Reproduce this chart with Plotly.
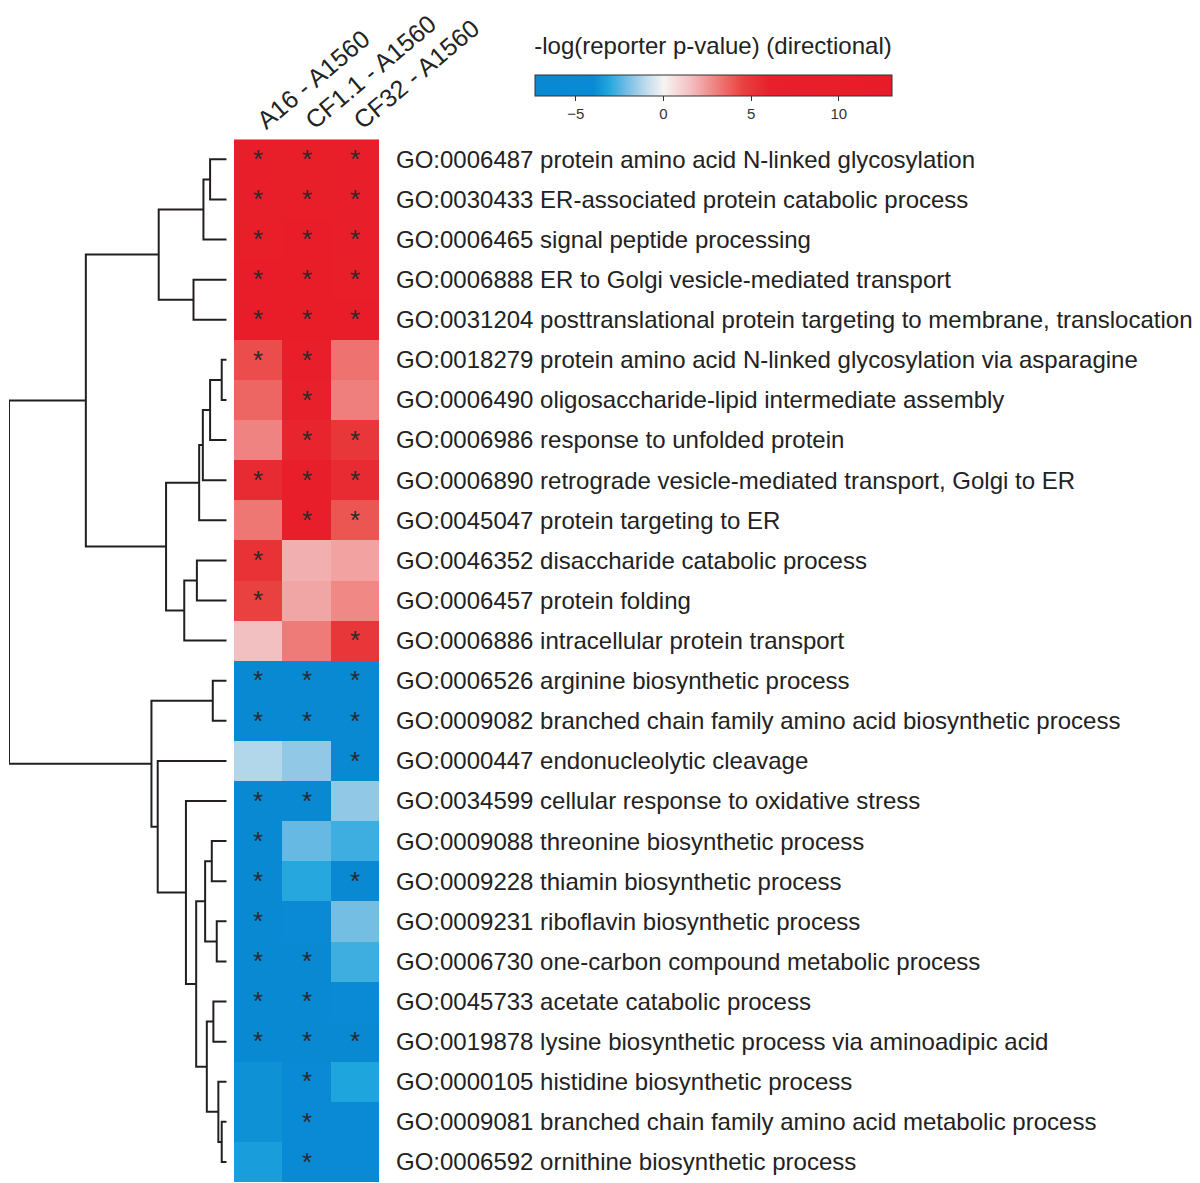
import plotly.graph_objects as go

# ---------------- data ----------------
columns = ["A16 - A1560", "CF1.1 - A1560", "CF32 - A1560"]

terms = [
    "GO:0006487 protein amino acid N-linked glycosylation",
    "GO:0030433 ER-associated protein catabolic process",
    "GO:0006465 signal peptide processing",
    "GO:0006888 ER to Golgi vesicle-mediated transport",
    "GO:0031204 posttranslational protein targeting to membrane, translocation",
    "GO:0018279 protein amino acid N-linked glycosylation via asparagine",
    "GO:0006490 oligosaccharide-lipid intermediate assembly",
    "GO:0006986 response to unfolded protein",
    "GO:0006890 retrograde vesicle-mediated transport, Golgi to ER",
    "GO:0045047 protein targeting to ER",
    "GO:0046352 disaccharide catabolic process",
    "GO:0006457 protein folding",
    "GO:0006886 intracellular protein transport",
    "GO:0006526 arginine biosynthetic process",
    "GO:0009082 branched chain family amino acid biosynthetic process",
    "GO:0000447 endonucleolytic cleavage",
    "GO:0034599 cellular response to oxidative stress",
    "GO:0009088 threonine biosynthetic process",
    "GO:0009228 thiamin biosynthetic process",
    "GO:0009231 riboflavin biosynthetic process",
    "GO:0006730 one-carbon compound metabolic process",
    "GO:0045733 acetate catabolic process",
    "GO:0019878 lysine biosynthetic process via aminoadipic acid",
    "GO:0000105 histidine biosynthetic process",
    "GO:0009081 branched chain family amino acid metabolic process",
    "GO:0006592 ornithine biosynthetic process",
]

# directional -log(reporter p-value), per term, columns A16 / CF1.1 / CF32
values = [
    [9.0, 10.0, 8.5],
    [8.5, 10.0, 9.0],
    [10.0, 10.5, 8.5],
    [11.0, 12.0, 10.0],
    [11.0, 12.0, 11.0],
    [4.2, 7.0, 3.3],
    [3.6, 6.5, 3.0],
    [2.9, 5.8, 5.0],
    [5.5, 7.5, 5.5],
    [3.2, 8.5, 4.0],
    [5.2, 1.9, 2.2],
    [4.5, 2.1, 2.8],
    [1.5, 3.1, 5.0],
    [-7.0, -7.0, -7.0],
    [-7.0, -7.0, -7.0],
    [-1.2, -1.7, -6.5],
    [-7.0, -6.5, -1.7],
    [-7.0, -2.3, -2.8],
    [-7.0, -3.1, -6.5],
    [-7.0, -4.8, -2.1],
    [-7.0, -6.5, -2.8],
    [-6.5, -6.5, -4.8],
    [-6.5, -6.5, -6.0],
    [-3.8, -5.5, -3.2],
    [-3.8, -5.5, -4.2],
    [-3.4, -5.5, -4.2],
]

significant = [
    [1, 1, 1], [1, 1, 1], [1, 1, 1], [1, 1, 1], [1, 1, 1],
    [1, 1, 0], [0, 1, 0], [0, 1, 1], [1, 1, 1], [0, 1, 1],
    [1, 0, 0], [1, 0, 0], [0, 0, 1],
    [1, 1, 1], [1, 1, 1], [0, 0, 1], [1, 1, 0], [1, 0, 0],
    [1, 0, 1], [1, 0, 0], [1, 1, 0], [1, 1, 0], [1, 1, 1],
    [0, 1, 0], [0, 1, 0], [0, 1, 0],
]

# row-clustering merges (scipy-like: index < 26 leaf, >= 26 earlier merge), with merge height
merges = [
    (0, 1, 16.7), (26, 2, 23.4), (3, 4, 33.4), (27, 28, 68.4),
    (5, 6, 5.0), (30, 7, 16.7), (31, 8, 24.0), (32, 9, 27.7),
    (10, 11, 30.0), (34, 12, 42.7), (33, 35, 61.0), (29, 36, 141.7),
    (13, 14, 14.0), (17, 18, 15.0), (19, 20, 10.0), (39, 40, 21.7),
    (21, 22, 13.4), (24, 25, 5.0), (23, 43, 8.4), (42, 44, 20.0),
    (41, 45, 30.7), (16, 46, 41.0), (15, 47, 69.4), (38, 48, 75.7),
    (37, 49, 219.0),
]

cb_ticks = [-5, 0, 5, 10]
zmin, zmax = -7.35, 13.0

# ---------------- figure ----------------
OFF = 8  # page body margin
W, H = 1200 - OFF, 1183 - OFF
n_rows = len(terms)

def fx(px):
    return max(0.0, (px - OFF) / W)

def fy(py):
    return (H - (py - OFF)) / H

stops = [
    (-7.35, "#0a89d3"), (-4.0, "#0a8ad4"), (-3.2, "#1ea5dd"), (-2.0, "#7cc0e4"),
    (-1.0, "#c0dcec"), (0.0, "#f7f4f4"), (1.5, "#f3c0c2"), (3.0, "#ef7f7c"),
    (4.5, "#e9413f"), (6.0, "#e8202b"), (13.0, "#e81c28"),
]
colorscale = [[(v - zmin) / (zmax - zmin), c] for v, c in stops]

star_text = [["*" if s else "" for s in row] for row in significant]

FONT = "Liberation Sans, Arial, sans-serif"

fig = go.Figure()

fig.add_trace(go.Heatmap(
    z=values,
    x=list(range(len(columns))),
    y=list(range(n_rows)),
    text=star_text,
    texttemplate="%{text}",
    textfont=dict(size=26, color="#2a2a2a", family=FONT),
    colorscale=colorscale,
    zmin=zmin, zmax=zmax,
    xaxis="x", yaxis="y",
    hoverinfo="skip",
    colorbar=dict(
        orientation="h",
        lenmode="pixels", len=357,
        thickness=21,
        x=fx(713), xanchor="center",
        y=fy(48), yanchor="top",
        xpad=0, ypad=0,
        outlinecolor="#333333", outlinewidth=1,
        tickvals=cb_ticks,
        ticks="outside", ticklen=5, tickwidth=1, tickcolor="#333333",
        tickfont=dict(size=15, color="#333333", family=FONT),
        title=dict(text="-log(reporter p-value) (directional)", side="top",
                   font=dict(size=24, color="#222222", family=FONT)),
    ),
))

# dendrogram computed from merges
node_y = {i: float(i) for i in range(n_rows)}
node_h = {i: 0.0 for i in range(n_rows)}
dx, dy = [], []
for k, (a, b, h) in enumerate(merges):
    nid = n_rows + k
    ya, yb = node_y[a], node_y[b]
    dx += [node_h[a], h, h, node_h[b], None]
    dy += [ya, ya, yb, yb, None]
    node_y[nid] = (ya + yb) / 2
    node_h[nid] = h

root_h = merges[-1][2]
fig.add_trace(go.Scatter(
    x=dx, y=dy, mode="lines",
    line=dict(color="#231f20", width=2),
    xaxis="x2", yaxis="y",
    hoverinfo="skip", showlegend=False, cliponaxis=False,
))

fig.update_layout(
    width=W, height=H,
    margin=dict(l=0, r=0, t=0, b=0),
    paper_bgcolor="white", plot_bgcolor="white",
    template="none",
    showlegend=False,
    font=dict(family=FONT, color="#222222"),
    xaxis=dict(
        domain=[fx(234), fx(379)],
        range=[-0.5, len(columns) - 0.5],
        side="top", anchor="y",
        tickvals=list(range(len(columns))), ticktext=columns,
        tickangle=-40,
        tickfont=dict(size=25, color="#222222"),
        ticks="", showgrid=False, zeroline=False, showline=False,
        automargin=False,
    ),
    yaxis=dict(
        domain=[fy(1182), fy(139.3)],
        range=[n_rows - 0.5, -0.5],
        side="right", anchor="x",
        tickvals=list(range(n_rows)), ticktext=terms,
        tickfont=dict(size=24, color="#222222"),
        ticks="", ticklabelstandoff=16,
        showgrid=False, zeroline=False, showline=False,
        automargin=False,
    ),
    xaxis2=dict(
        domain=[fx(9), fx(226.7)],
        range=[root_h, 0],
        anchor="y", visible=False, showgrid=False, zeroline=False,
    ),
)

fig.write_html("out.html")
